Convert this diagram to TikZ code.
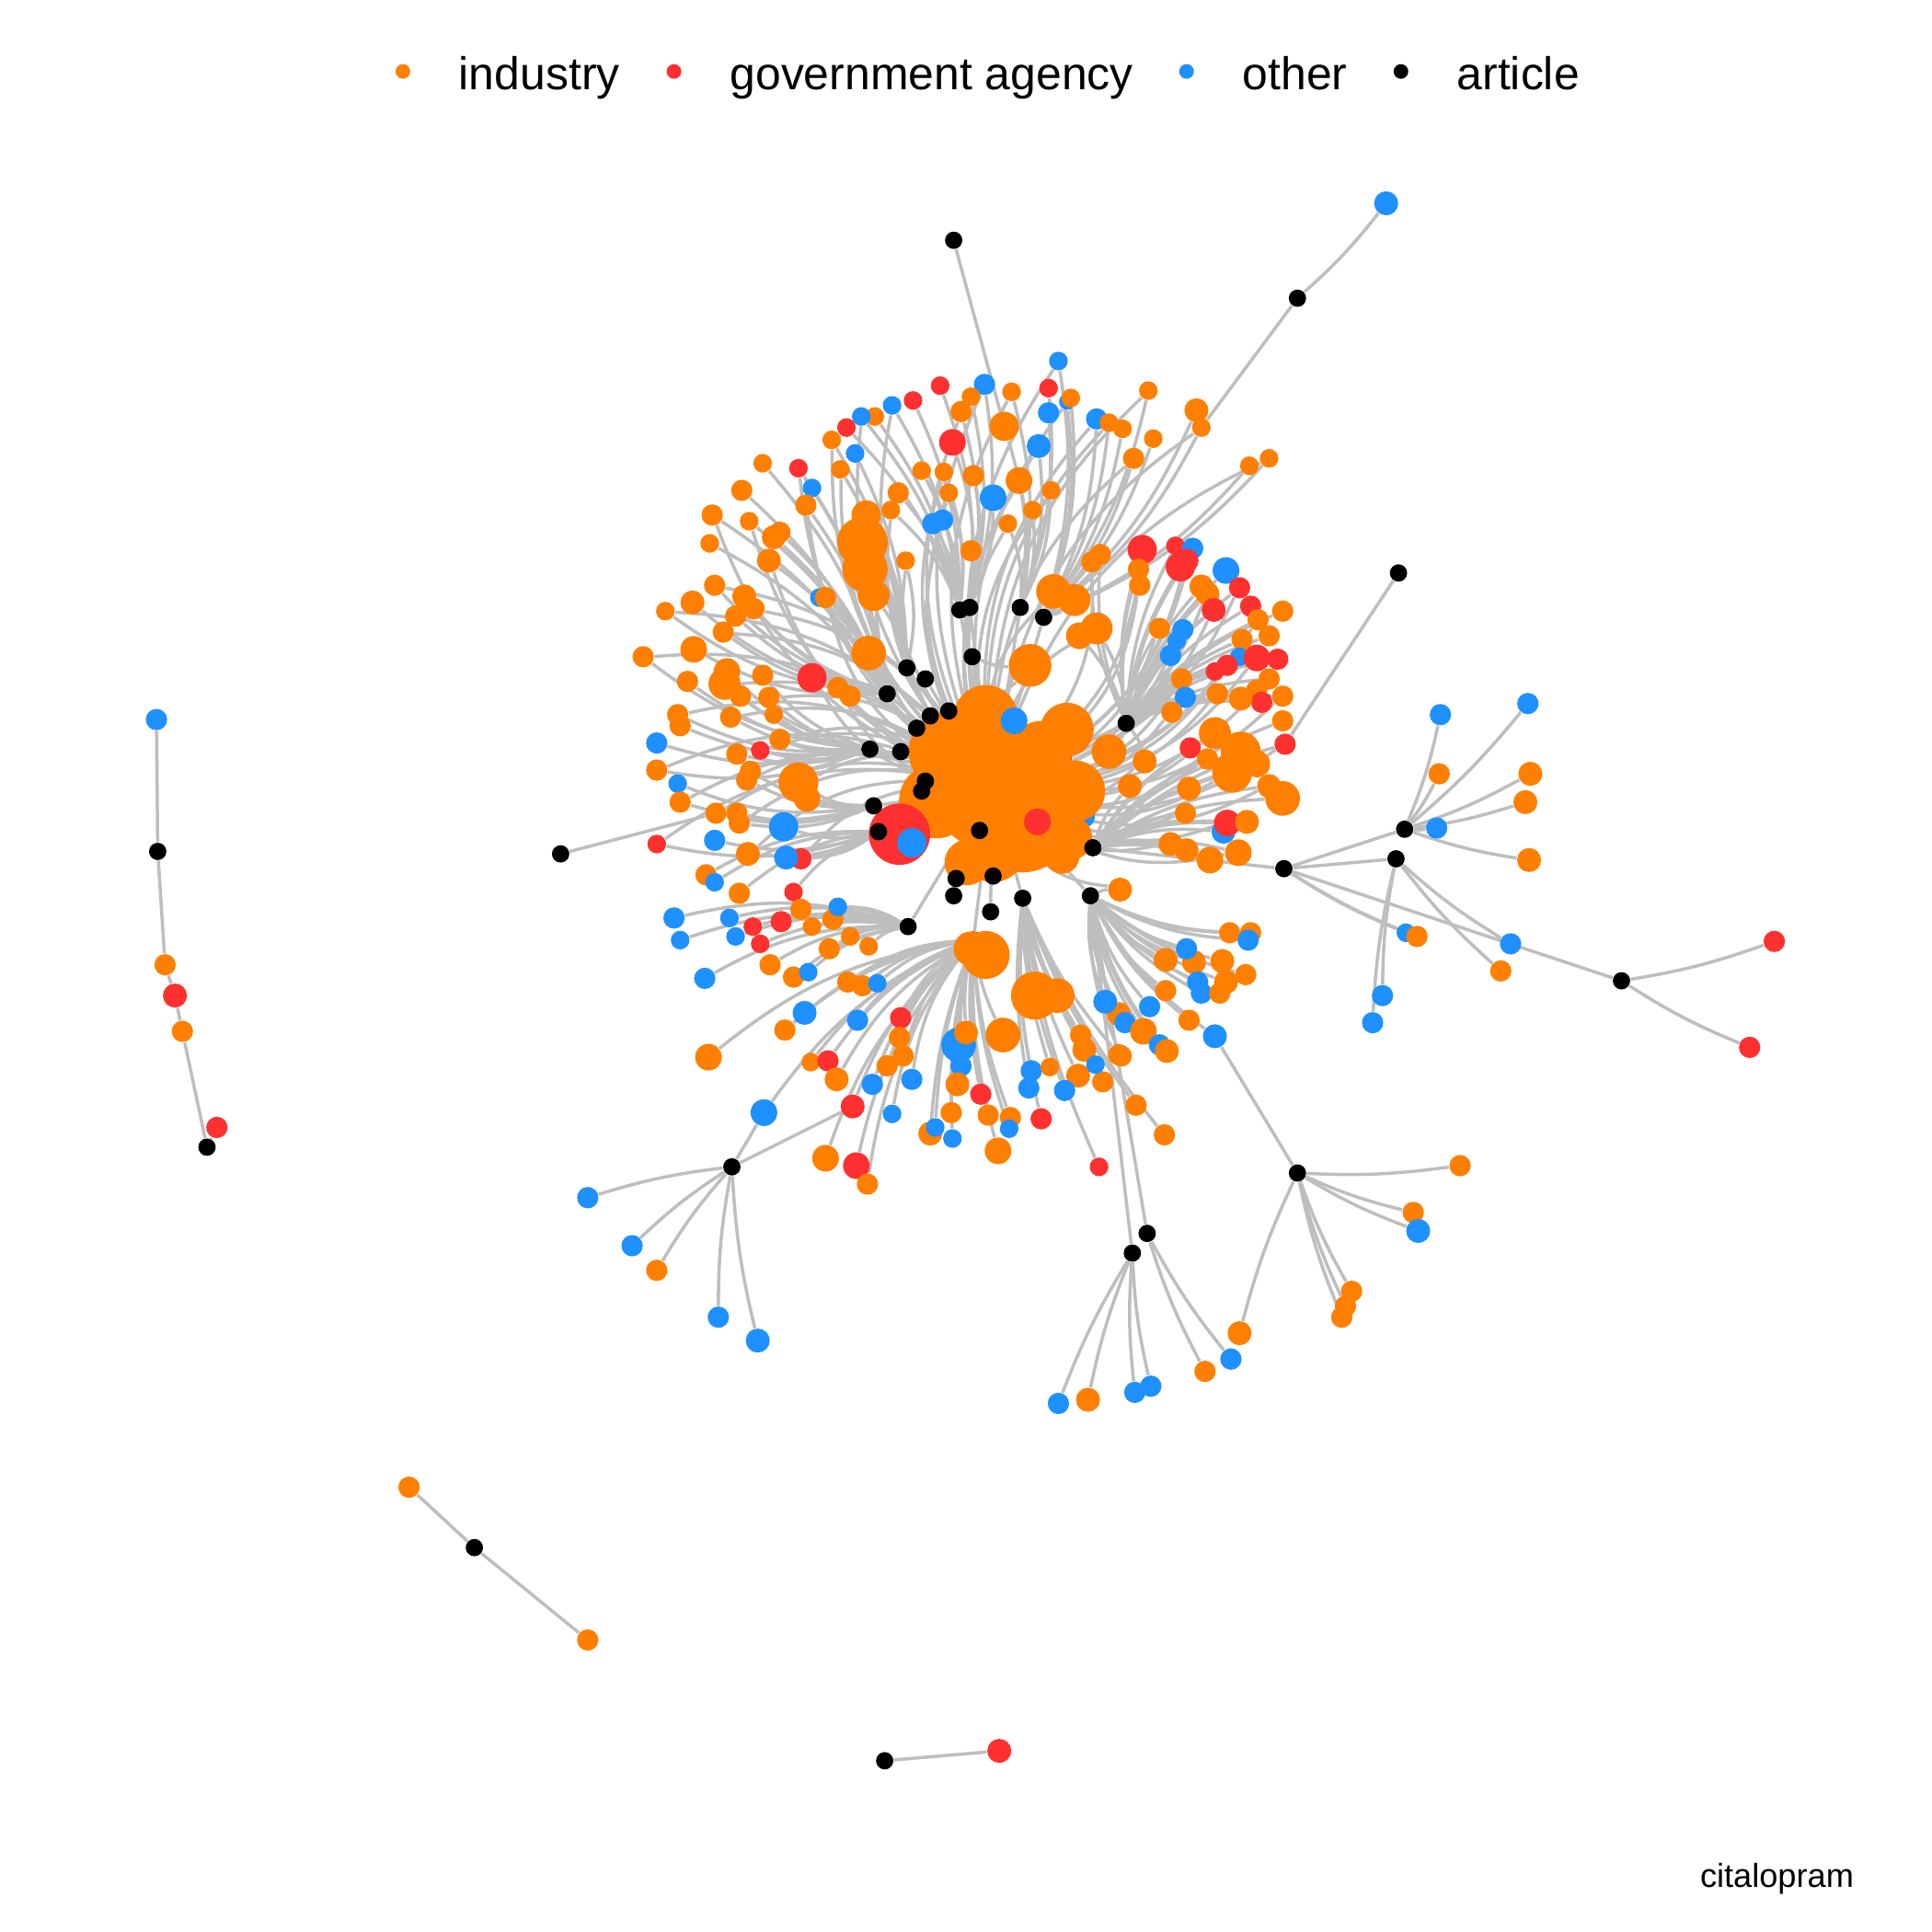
\documentclass[tikz,border=0pt]{standalone}
\usepackage{fontspec}
\setmainfont{Liberation Sans}
\usetikzlibrary{backgrounds}

\definecolor{ind}{HTML}{FF7F00}
\definecolor{gov}{HTML}{FF3030}
\definecolor{oth}{HTML}{1E90FF}
\definecolor{art}{HTML}{000000}
\definecolor{edgegray}{HTML}{BEBEBE}

\begin{document}
\begin{tikzpicture}[
    x=0.013393cm, y=-0.013393cm,
    nd/.style={circle, inner sep=0pt, minimum size=#1*0.0290cm},
    edge/.style={draw=edgegray, line width=1pt},
    key/.style={anchor=base west, inner sep=0pt, font=\fontsize{14.2}{17}\selectfont}
]
\useasboundingbox (0,0) rectangle (1568,1568);

% Node lists: name/x/y/size/colour/parent
\def\artlist{a1/779/495, a2/787/493, a3/828/493, a4/847/501, a5/789/533, a6/736/542, a7/751/551,
  a8/720/563, a9/770/577, a10/755/581, a11/744/591, a12/706/608, a13/731/610, a14/751/634, a15/748/642,
  a16/709/654, a17/713/675, a18/795/674, a19/887/688, a20/914/587, a21/776/713, a22/806/711, a23/774/727,
  a24/830/729, a25/885/727, a26/804/740, a27/790/763, a28/737/752}
\def\toplist{t1/859/293/7/oth/a4, t2/763/313/7/gov/a2, t3/799/312/8/oth/a2, t4/788/322/7/ind/a2,
  t5/821/318/7/ind/a3, t6/851/315/7/gov/a3, t7/866/326/6/oth/a4, t8/869/323/7/ind/a4, t9/932/317/7/ind/a4,
  t10/741/325/7/gov/a1, t11/724/329/7/oth/a1, t12/710/338/7/ind/a1, t13/699/338/7/oth/a1, t14/687/347/7/gov/a1,
  t15/675/357/7/ind/a6, t16/694/368/7/oth/a6, t17/682/381/7/ind/a6, t18/619/376/7/ind/a8, t19/648/380/7/gov/a8,
  t20/659/396/7/oth/a8, t21/654/410/8/ind/a8, t22/602/398/8/ind/a8, t23/578/418/8/ind/a8, t24/576/441/7/ind/a8,
  t25/608/423/7/ind/a8, t26/773/359/10/gov/a2, t27/780/334/8/ind/a2, t28/815/346/11/ind/a3, t29/843/362/9/oth/a3,
  t30/851/335/8/oth/a3, t31/890/340/8/oth/a4, t32/911/348/7/ind/a4, t33/900/343/7/ind/a4, t34/936/356/7/ind/a4,
  t35/920/372/8/ind/a4, t36/971/333/9/ind/a4, t37/975/347/7/ind/a4, t38/1014/378/7/ind/a4, t39/1030/372/7/ind/a4,
  t40/748/382/7/ind/a1, t41/766/383/7/ind/a1, t42/790/386/8/ind/a2, t43/827/390/10/ind/a3, t44/806/404/10/oth/a2,
  t45/853/398/7/ind/a3, t46/838/414/7/ind/a3, t47/818/425/7/ind/a3, t48/729/400/8/ind/a1, t49/723/414/7/ind/a1,
  t50/704/415/7/ind/a6, t51/765/422/8/oth/a1, t52/757/425/8/oth/a1, t53/770/400/7/ind/a1, t54/788/447/8/ind/a2,
  t55/735/455/7/ind/a6, t56/700/440/19/ind/a6, t57/702/462/17/ind/a6, t58/703/418/11/ind/a6, t59/709/483/12/ind/a6,
  t60/665/485/7/oth/a8, t61/670/485/8/ind/a8, t62/628/436/9/ind/a8, t63/624/455/9/ind/a8, t64/633/432/8/ind/a8,
  t65/855/480/13/ind/a4, t66/872/487/12/ind/a4, t67/890/510/12/ind/a20, t68/876/516/10/ind/a20, t69/836/540/16/ind/a5,
  t70/705/530/13/ind/a8, t71/659/550/11/gov/a8, t72/690/565/8/ind/a8, t73/680/558/8/ind/a8}
\def\leftlist{l1/580/475/8/ind/a8, l2/562/489/9/ind/a8, l3/540/496/7/ind/a8, l4/604/484/9/ind/a8,
  l5/612/494/8/ind/a8, l6/597/500/8/ind/a8, l7/587/513/8/ind/a8, l8/563/527/10/ind/a8, l9/522/533/8/ind/a12,
  l10/558/553/8/ind/a12, l11/550/580/8/ind/a12, l12/533/603/8/oth/a12, l13/593/582/8/ind/a12, l14/552/589/8/ind/a12,
  l15/533/625/8/ind/a12, l16/550/636/7/oth/a16, l17/552/651/8/ind/a16, l18/590/545/10/ind/a12, l19/588/555/12/ind/a12,
  l20/619/548/8/ind/a12, l21/624/566/8/ind/a12, l22/601/565/8/ind/a12, l23/617/609/7/gov/a12, l24/628/580/7/ind/a12,
  l25/633/600/8/ind/a12, l26/598/612/8/ind/a12, l27/606/633/8/ind/a16, l28/609/626/8/ind/a16, l29/648/635/15/ind/a16,
  l30/655/648/10/ind/a16, l31/581/660/8/ind/a16, l32/598/660/8/ind/a16, l33/600/668/8/ind/a16, l34/580/682/8/oth/a17,
  l35/607/693/9/ind/a17, l36/636/671/11/oth/a17, l37/650/697/8/gov/a17, l38/638/696/9/oth/a17, l39/533/685/7/gov/a17}
\def\lowleftlist{m1/547/745/8/oth/a28, m2/552/763/7/oth/a28, m3/572/794/8/oth/a28, m4/592/745/7/oth/a28,
  m5/573/710/8/ind/a17, m6/580/716/7/oth/a17, m7/600/725/8/ind/a17, m8/644/724/7/gov/a17, m9/634/748/8/gov/a28,
  m10/611/752/7/gov/a28, m11/617/766/7/gov/a28, m12/597/760/7/oth/a28, m13/625/783/8/ind/a28, m14/644/793/8/ind/a28,
  m15/656/789/7/oth/a28, m16/650/738/8/ind/a28, m17/659/752/7/ind/a28, m18/673/770/8/ind/a28, m19/676/746/8/ind/a28,
  m20/680/736/7/oth/a28, m21/690/760/7/ind/a28, m22/705/768/7/ind/a28, m23/688/797/8/ind/a27, m24/700/800/8/ind/a27,
  m25/712/798/7/oth/a27, m26/696/828/8/oth/a27, m27/637/836/8/ind/a27, m28/653/822/9/oth/a27, m29/575/858/10/ind/a27,
  m30/620/903/10/oth/a27, m31/658/862/7/ind/a27, m32/672/861/8/gov/a27, m33/679/876/9/ind/a27, m34/692/898/9/gov/a27,
  m35/670/940/10/ind/a27, m36/695/946/10/gov/a27, m37/704/961/8/ind/a27, m38/708/880/8/oth/a27, m39/724/904/7/oth/a27,
  m40/740/876/8/oth/a27, m41/720/865/8/ind/a27, m42/733/857/8/ind/a27, m43/731/826/8/gov/a27, m44/730/842/8/ind/a27}
\def\lowlist{k1/800/775/18/ind/a27, k2/788/770/13/ind/a27, k3/840/808/18/ind/a24, k4/858/808/13/ind/a24,
  k5/814/840/13/ind/a27, m45/778/848/13/oth/a27, m46/784/838/9/ind/a27, m47/780/865/8/oth/a27, m48/777/880/9/ind/a27,
  m49/772/903/8/ind/a27, m50/755/920/9/ind/a27, m51/759/915/7/oth/a27, m52/773/924/7/oth/a27, m53/796/888/8/gov/a27,
  m54/802/905/8/ind/a27, m55/820/907/8/ind/a27, m56/819/916/7/oth/a27, m57/810/934/10/ind/a27, m58/845/908/8/gov/a24,
  m59/835/883/8/oth/a24, m60/837/869/8/oth/a24, m61/852/866/7/ind/a24, m62/877/840/8/ind/a24, m63/880/852/9/ind/a24,
  m64/875/873/9/ind/a24, m65/864/885/8/oth/a24, m66/895/878/8/ind/a24, m67/889/864/7/oth/a24, m68/908/856/8/ind/a24,
  m69/922/897/8/ind/a24, m70/945/921/8/ind/a24, m71/892/947/7/gov/a24}
\def\rightlist{r1/927/446/11/gov/a20, r2/893/450/8/ind/a20, r3/886/456/8/ind/a20, r4/924/462/8/ind/a20,
  r5/925/475/8/ind/a20, r6/954/443/7/gov/a20, r7/968/445/8/oth/a20, r8/958/460/11/gov/a20, r9/963/455/9/gov/a20,
  r10/995/463/10/oth/a20, r11/980/482/9/ind/a20, r12/975/476/9/ind/a20, r13/1006/477/8/gov/a20, r14/1015/492/8/gov/a20,
  r15/985/495/9/gov/a20, r16/1041/496/8/ind/a20, r17/1021/503/8/ind/a20, r18/1030/516/8/ind/a20, r19/941/510/8/ind/a20,
  r20/960/511/8/oth/a20, r21/955/520/7/oth/a20, r22/950/532/8/oth/a20, r23/1008/519/8/ind/a20, r24/1006/533/7/oth/a20,
  r25/996/540/8/gov/a20, r26/986/545/7/gov/a20, r27/1020/534/10/gov/a20, r28/1037/535/8/gov/a20, r29/1030/551/8/ind/a20,
  r30/1020/560/8/ind/a20, r31/1041/565/8/ind/a20, r32/1024/570/8/gov/a20, r33/959/551/8/ind/a20, r34/962/566/8/oth/a20,
  r35/988/563/8/ind/a20, r36/1007/567/9/ind/a20, r37/951/578/8/ind/a20, r38/1041/585/8/ind/a19, r39/986/595/12/ind/a19,
  r40/1007/610/15/ind/a19, r41/1000/627/15/ind/a19, r42/1020/620/10/ind/a19, r43/1030/638/9/ind/a19, r44/1041/648/13/ind/a19,
  r45/1043/604/8/gov/a19, r46/966/607/8/gov/a19, r47/980/616/8/ind/a19, r48/965/640/9/ind/a19, r49/962/660/8/ind/a19,
  r50/993/675/9/oth/a19, r51/996/668/10/gov/a19, r52/1012/667/9/ind/a19, r53/1005/692/10/ind/a19, r54/982/698/10/ind/a19,
  r55/950/685/9/ind/a19, r56/963/690/9/ind/a19, r57/909/722/9/ind/a25, r58/917/638/9/ind/a19, r59/929/618/9/ind/a20,
  r60/900/610/13/ind/a20}
\def\lowrightlist{r61/998/757/8/ind/a25, r62/1015/757/8/ind/a25, r63/946/779/9/ind/a25, r64/969/781/9/ind/a25,
  r65/992/780/9/ind/a25, r66/963/770/8/oth/a25, r67/1013/763/8/oth/a25, r68/972/797/8/oth/a25, r69/975/806/8/oth/a25,
  r70/1011/791/8/ind/a25, r71/995/797/9/ind/a25, r72/990/806/8/ind/a25, r73/965/828/8/ind/a25, r74/986/841/9/oth/a25,
  r75/946/804/8/ind/a25, r76/908/823/9/ind/a25, r77/897/813/9/oth/a25, r78/913/830/8/oth/a25, r79/933/817/8/oth/a25,
  r80/928/837/10/ind/a25, r81/941/848/8/oth/a25, r82/947/853/9/ind/a25, r83/910/857/8/ind/a25}
\def\outartlist{b1/774/195/t28, b2/1053/242/t37, b3/1135/465/r45, b4/455/693/l31, b5/1042/705/a19,
  b6/1140/673/b5, b7/1133/697/b5, b8/1316/796/b5, b9/1053/952/r74, b10/931/1001/a25, b11/919/1017/a25, b12/594/947/m34}
\def\outlist{x1/1169/580/8/oth/b6, x2/1240/571/8/oth/b6, x3/1168/628/8/ind/b6, x4/1242/628/9/ind/b6,
  x5/1238/651/9/ind/b6, x6/1241/698/9/ind/b6, x7/1166/672/8/oth/b6, x8/1122/808/8/oth/b7, x9/1114/830/8/oth/b7,
  x10/1141/757/7/oth/b5, x11/1150/760/8/ind/b5, x12/1226/766/8/oth/b7, x13/1218/788/8/ind/b7, x14/1440/764/8/gov/b8,
  x15/1420/850/8/gov/b8, x16/1125/165/9/oth/b2,
  y1/1185/946/8/ind/b9, y2/1147/984/8/ind/b9, y3/1151/999/9/oth/b9, y4/1097/1048/8/ind/b9, y5/1092/1060/8/ind/b9,
  y6/1089/1069/8/ind/b9, y7/1006/1082/9/ind/b9, y8/999/1103/8/oth/b10, y9/978/1113/8/ind/b10, y10/859/1139/8/oth/b11,
  y11/883/1136/9/ind/b11, y12/921/1130/8/oth/b11, y13/934/1125/8/oth/b11,
  z1/477/972/8/oth/b12, z2/513/1011/8/oth/b12, z3/533/1031/8/ind/b12, z4/583/1069/8/oth/b12, z5/615/1088/9/oth/b12}

% Legend
\foreach \nm/\x/\col/\txt in {lind/327/ind/industry, lgov/547/gov/government agency, loth/963/oth/other, lart/1137/art/article} {
  \node[nd=5.5, fill=\col] (\nm) at (\x,58) {};
  \node[key] (\nm-t) at (\x+45,73) {\txt};
}
\node[anchor=base east, inner sep=0pt, font=\fontsize{10.3}{12}\selectfont] (drug) at (1505,1532) {citalopram};

% Core cluster
\foreach \nm/\x/\y/\s/\col in {core/805/640/46/ind, c1/770/610/30/ind, c2/800/582/24/ind, c3/760/650/28/ind,
  c4/830/668/37/ind, c5/806/690/24/ind, c6/866/592/20/ind, hid/858/616/11/gov, oc2/880/663/8/oth,
  c7/872/642/23/ind, c8/868/680/17/ind, c9/845/610/23/ind, c10/785/700/17/ind, c11/862/695/13/ind,
  gc/842/667/10/gov, oc/823/585/10/oth, gbig/730/677/23/gov, obig/740/684/11/oth}
  \node[nd=\s, fill=\col] (\nm) at (\x,\y) {};

% Articles
\foreach \nm/\x/\y in \artlist
  \node[nd=6.5, fill=art] (\nm) at (\x,\y) {};

% Arcs round the core
\foreach \nm/\x/\y/\s/\col/\pa in \toplist
  \node[nd=\s, fill=\col] (\nm) at (\x,\y) {};
\foreach \nm/\x/\y/\s/\col/\pa in \leftlist
  \node[nd=\s, fill=\col] (\nm) at (\x,\y) {};
\foreach \nm/\x/\y/\s/\col/\pa in \lowleftlist
  \node[nd=\s, fill=\col] (\nm) at (\x,\y) {};
\foreach \nm/\x/\y/\s/\col/\pa in \lowlist
  \node[nd=\s, fill=\col] (\nm) at (\x,\y) {};
\foreach \nm/\x/\y/\s/\col/\pa in \rightlist
  \node[nd=\s, fill=\col] (\nm) at (\x,\y) {};
\foreach \nm/\x/\y/\s/\col/\pa in \lowrightlist
  \node[nd=\s, fill=\col] (\nm) at (\x,\y) {};

% Outer articles and branches
\foreach \nm/\x/\y/\pa in \outartlist
  \node[nd=6.5, fill=art] (\nm) at (\x,\y) {};
\foreach \nm/\x/\y/\s/\col/\pa in \outlist
  \node[nd=\s, fill=\col] (\nm) at (\x,\y) {};

% Separate components
\foreach \nm/\x/\y/\s/\col in {u1/127/584/8/oth, b13/128/691/6.5/art, u2/134/783/8/ind, u3/142/808/9/gov, u4/148/837/8/ind,
  b14/168/931/6.5/art, u5/176/915/8/gov, v1/332/1207/8/ind, b15/385/1256/6.5/art, v2/477/1331/8/ind,
  b16/718/1429/6.5/art, w1/811/1421/9/gov}
  \node[nd=\s, fill=\col] (\nm) at (\x,\y) {};

% Edges
\begin{pgfonlayer}{background}
\foreach \nm/\x/\y in \artlist
  \draw[edge] (\nm) -- (core);
\foreach \nm/\x/\y/\s/\col/\pa [count=\i] in \toplist {
  \draw[edge] (\nm) to[bend left=12] (\pa);
  \ifodd\i \draw[edge] (\nm) to[bend right=22] (core); \fi
}
\foreach \nm/\x/\y/\s/\col/\pa [count=\i] in \leftlist {
  \draw[edge] (\nm) to[bend right=15] (\pa);
  \ifodd\i \draw[edge] (\nm) to[bend left=22] (core); \fi
}
\foreach \nm/\x/\y/\s/\col/\pa in \lowleftlist
  \draw[edge] (\nm) to[bend left=15] (\pa);
\foreach \nm/\x/\y/\s/\col/\pa in \lowlist
  \draw[edge] (\nm) to[bend left=8] (\pa);
\foreach \nm/\x/\y/\s/\col/\pa [count=\i] in \rightlist {
  \draw[edge] (\nm) to[bend right=12] (\pa);
  \ifodd\i \draw[edge] (\nm) to[bend left=22] (core); \fi
}
\foreach \nm/\x/\y/\s/\col/\pa in \lowrightlist
  \draw[edge] (\nm) to[bend left=12] (\pa);
\foreach \nm/\x/\y/\pa in \outartlist
  \draw[edge] (\nm) -- (\pa);
\foreach \nm/\x/\y/\s/\col/\pa in \outlist
  \draw[edge] (\nm) to[bend left=5] (\pa);
\draw[edge] (u1) -- (b13) -- (u2) -- (u3) -- (u4) -- (b14) -- (u5);
\draw[edge] (v1) -- (b15) -- (v2);
\draw[edge] (b16) -- (w1);
\draw[edge] (b12) -- (m30);
\end{pgfonlayer}

\end{tikzpicture}
\end{document}
